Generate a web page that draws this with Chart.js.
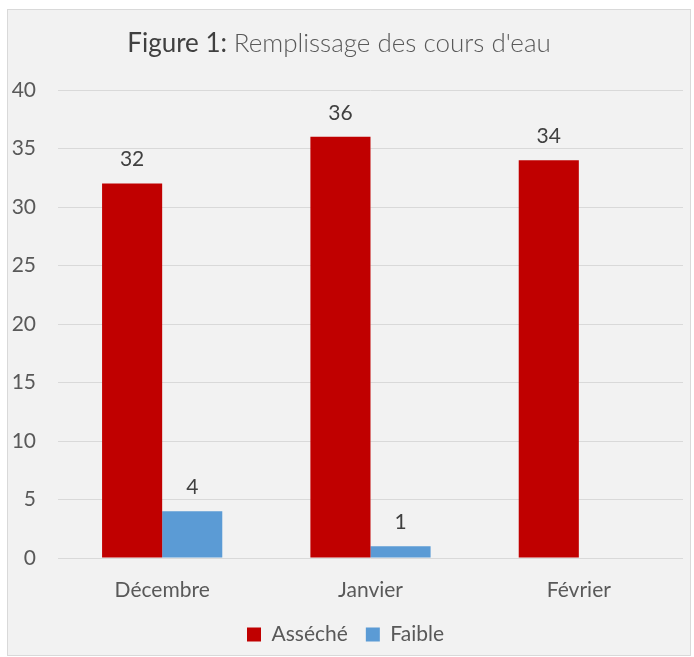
<!DOCTYPE html>
<html>
<head>
<meta charset="utf-8">
<script src="https://cdn.jsdelivr.net/npm/chart.js@4.4.0/dist/chart.umd.min.js"></script>
<style>
  html, body { margin: 0; padding: 0; background: #ffffff; }
  #box {
    position: absolute; left: 7px; top: 9px; width: 682px; height: 645px;
    background: #f2f2f2; border: 1px solid #d9d9d9;
  }
  #title {
    position: absolute; left: 0; right: 20px; top: 16px; text-align: center;
    font-family: Lato, "Open Sans", sans-serif; font-size: 26px; color: #595959;
  }
  #title b { font-weight: 400; color: #404040; }
  #title span { font-weight: 300; }
  canvas { position: absolute; left: 0; top: 0; }
</style>
</head>
<body>
<div id="box">
  <canvas id="chart" width="682" height="645"></canvas>
  <div id="title"><b>Figure 1:</b> <span>Remplissage des cours d'eau</span></div>
</div>
<script>
const categories = ['Décembre', 'Janvier', 'Février'];
const asseche = [32, 36, 34];
const faible = [4, 1, null];
const yTicks = [0, 5, 10, 15, 20, 25, 30, 35, 40];

const FONT = 'Lato, "Open Sans", sans-serif';

// étiquettes de valeurs au-dessus des barres
const valueLabels = {
    id: 'valueLabels',
    afterDatasetsDraw(chart) {
        const ctx = chart.ctx;
        ctx.save();
        ctx.font = '21px ' + FONT;
        ctx.fillStyle = '#404040';
        ctx.textAlign = 'center';
        ctx.textBaseline = 'middle';
        chart.data.datasets.forEach((ds, i) => {
            chart.getDatasetMeta(i).data.forEach((bar, j) => {
                const v = ds.data[j];
                if (v === null || v === undefined) return;
                ctx.fillText(String(v), bar.x, bar.y - 24);
            });
        });
        ctx.restore();
    }
};

new Chart(document.getElementById('chart'), {
    type: 'bar',
    data: {
        labels: categories,
        datasets: [
            { label: 'Asséché', data: asseche, backgroundColor: '#c00000' },
            { label: 'Faible', data: faible, backgroundColor: '#5b9bd5' }
        ]
    },
    options: {
        responsive: false,
        animation: false,
        layout: { padding: { top: 80, right: 7, left: 0, bottom: 0 } },
        datasets: { bar: { categoryPercentage: 0.577, barPercentage: 1 } },
        scales: {
            x: {
                grid: { display: false },
                border: { display: false },
                ticks: { color: '#595959', font: { family: FONT, size: 21 }, padding: 12 },
                afterFit: s => { s.height = 48; }
            },
            y: {
                min: 0, max: 40,
                afterBuildTicks: s => { s.ticks = yTicks.map(v => ({ value: v })); },
                grid: { color: '#d9d9d9', drawTicks: false },
                border: { display: false },
                ticks: { color: '#595959', font: { family: FONT, size: 21 }, padding: 22 },
                afterFit: s => { s.width = 50; }
            }
        },
        plugins: {
            legend: {
                position: 'bottom',
                labels: {
                    color: '#595959', font: { family: FONT, size: 21 },
                    boxWidth: 14, boxHeight: 14, padding: 18
                }
            },
            title: { display: false },
            tooltip: { enabled: false }
        }
    },
    plugins: [valueLabels]
});
</script>
</body>
</html>
